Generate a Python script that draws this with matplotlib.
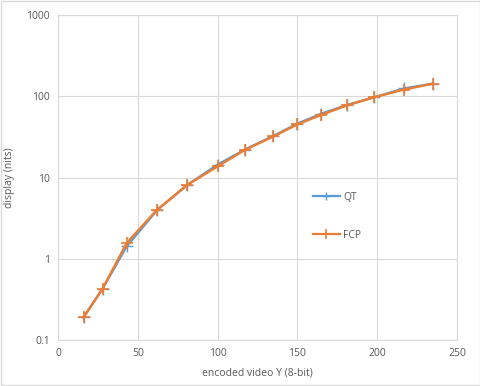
import matplotlib.pyplot as plt
from matplotlib.ticker import FixedLocator, FixedFormatter, NullLocator

# data
code_y = [16, 28, 43, 62, 81, 100, 117, 135, 150, 165, 181, 198, 217, 235]
qt_nits = [0.19, 0.43, 1.42, 3.95, 8.1, 14.4, 22, 32.5, 46, 61, 78, 97, 125, 143]
fcp_nits = [0.19, 0.43, 1.56, 4.0, 8.1, 13.7, 21.8, 32, 45, 59, 77, 97, 121, 143]

y_ticks = [0.1, 1, 10, 100, 1000]
y_labels = ['0.1', '1', '10', '100', '1000']
x_ticks = [0, 50, 100, 150, 200, 250]

plt.rcParams['font.family'] = ['Open Sans', 'DejaVu Sans']
grid_c = '#d9d9d9'
text_c = '#595959'
qt_c = '#5B9BD5'
fcp_c = '#ED7D31'

fig = plt.figure(figsize=(4.81, 3.86), dpi=100)
ax = fig.add_axes([58 / 481, 1 - 340 / 386, (457 - 58) / 481, (340 - 15) / 386])

ax.plot(code_y, qt_nits, color=qt_c, linewidth=1.7, marker='+', markersize=8,
        markeredgewidth=1, markeredgecolor=qt_c, label='QT')
ax.plot(code_y, fcp_nits, color=fcp_c, linewidth=1.7, marker='+', markersize=9,
        markeredgewidth=1.2, markeredgecolor=fcp_c, label='FCP')

ax.set_yscale('log')
ax.set_ylim(0.1, 1000)
ax.set_xlim(0, 250)
ax.yaxis.set_major_locator(FixedLocator(y_ticks))
ax.yaxis.set_major_formatter(FixedFormatter(y_labels))
ax.yaxis.set_minor_locator(NullLocator())
ax.set_xticks(x_ticks)

ax.grid(True, color=grid_c, linewidth=0.8)
ax.set_axisbelow(True)
for s in ax.spines.values():
    s.set_color(grid_c)
    s.set_linewidth(0.8)
ax.tick_params(length=0, colors=text_c, labelsize=7.5, pad=6)

ax.set_xlabel('encoded video Y (8-bit)', color=text_c, fontsize=7.5, labelpad=6)
ax.set_ylabel('display (nits)', color=text_c, fontsize=7.5, labelpad=8)

leg = ax.legend(loc='upper left', bbox_to_anchor=(0.615, 0.485), frameon=False,
                fontsize=7.5, handlelength=2.6, labelspacing=2.6, handletextpad=0.3,
                markerscale=0.8)
for t in leg.get_texts():
    t.set_color(text_c)
for h in leg.get_lines():
    h.set_linewidth(1.6)

# outer chart border like the Excel chart area
fig.patches.append(plt.Rectangle((0.002, 0.002), 0.996, 0.996, transform=fig.transFigure,
                                 fill=False, edgecolor=grid_c, linewidth=1))

fig.savefig('out.png', dpi=100)
